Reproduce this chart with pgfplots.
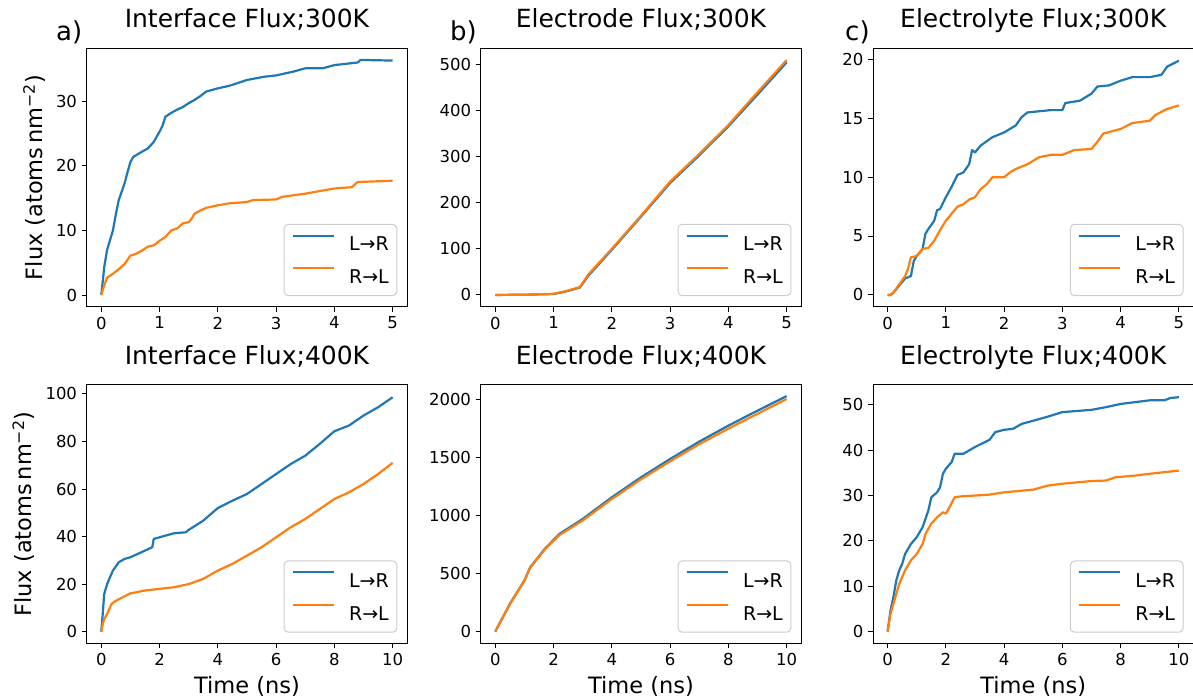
\documentclass[border=0pt]{standalone}
\usepackage{fontspec}
\setmainfont{DejaVu Sans}
\usepackage{pgfplots}
\pgfplotsset{compat=1.18}

\definecolor{tabblue}{HTML}{1F77B4}
\definecolor{taborange}{HTML}{FF7F0E}

\newcommand{\tickfont}{\fontsize{16.5}{19}\selectfont}
\newcommand{\legfont}{\fontsize{19}{22}\selectfont}
\newcommand{\labfont}{\fontsize{22.5}{26}\selectfont}
\newcommand{\titfont}{\fontsize{25}{29}\selectfont}
\newcommand{\panfont}{\fontsize{26}{30}\selectfont}

\pgfplotsset{
  panel/.style={
    scale only axis,
    width=320.5pt, height=258.4pt,
    axis line style={line width=1pt},
    tick align=outside,
    xtick pos=bottom, ytick pos=left,
    major tick length=5pt,
    every tick/.style={black, line width=1pt},
    scaled ticks=false,
    /pgf/number format/assume math mode=true,
    /pgf/number format/set thousands separator={},
    xticklabel style={font=\tickfont, inner sep=0pt, yshift=-5pt},
    yticklabel style={font=\tickfont, inner sep=0pt, xshift=-4.5pt},
    title style={font=\titfont, at={(0.5,1)}, anchor=base, yshift=14.3pt},
    label style={font=\labfont},
    legend cell align=left,
    legend image code/.code={\draw[##1, line width=1.9pt] (0pt,9pt) -- (41pt,9pt);},
    legend style={at={(0.969,0.041)}, anchor=south east,
      draw=black!20, line width=1pt, rounded corners=4pt,
      fill=white, fill opacity=0.8, draw opacity=1, text opacity=1,
      font=\legfont, inner xsep=8pt, inner ysep=10.5pt,
      row sep=15pt, column sep=14pt, nodes={inner sep=0pt}},
  },
  lr/.style={tabblue, line width=2.2pt, line join=round},
  rl/.style={taborange, line width=2.2pt, line join=round},
}

\begin{document}
\begin{tikzpicture}
\useasboundingbox (0,0) rectangle (1193pt,697pt);

% ---------- top row: 300K ----------
\begin{axis}[panel, at={(86.7pt,390.3pt)}, anchor=south west,
  title={Interface Flux;300K},
  xmin=-0.25, xmax=5.25, ymin=-1.8, ymax=38.2,
  xtick={0,1,2,3,4,5}, ytick={0,10,20,30},
  ylabel={Flux (atoms\,nm\textsuperscript{−2})},
  ylabel style={at={(axis description cs:-0.1385,0.5)}, anchor=base},
]
\addplot[lr] coordinates {
(0,0)(0.03,2.5)(0.05,4.3)(0.1,7)(0.15,8.5)(0.2,10)(0.25,12.5)(0.3,14.7)(0.35,16)(0.4,17.3)
(0.45,19)(0.5,20.6)(0.55,21.4)(0.7,22.2)(0.8,22.7)(0.9,23.7)(1.0,25.3)(1.05,26.2)(1.1,27.6)
(1.2,28.2)(1.3,28.7)(1.4,29.1)(1.5,29.7)(1.6,30.2)(1.7,30.8)(1.8,31.5)(2.0,32.0)(2.2,32.4)
(2.5,33.3)(2.8,33.8)(3.0,34.0)(3.3,34.6)(3.5,35.1)(3.8,35.1)(4.0,35.6)(4.3,35.9)(4.4,36.0)
(4.45,36.4)(5.0,36.3)
};
\addlegendentry{L→R}
\addplot[rl] coordinates {
(0,0)(0.05,1.5)(0.1,2.7)(0.2,3.3)(0.3,4.0)(0.4,4.8)(0.5,6.1)(0.6,6.4)(0.7,6.9)(0.8,7.5)
(0.9,7.7)(1.0,8.4)(1.1,9.0)(1.2,10.0)(1.3,10.3)(1.4,11.1)(1.5,11.3)(1.55,11.8)(1.6,12.6)
(1.7,13.1)(1.8,13.5)(2.0,13.9)(2.2,14.2)(2.5,14.4)(2.6,14.7)(3.0,14.8)(3.1,15.2)(3.5,15.7)
(4.0,16.5)(4.3,16.7)(4.4,17.5)(5.0,17.7)
};
\addlegendentry{R→L}
\end{axis}

\begin{axis}[panel, at={(480.7pt,390.3pt)}, anchor=south west,
  title={Electrode Flux;300K},
  xmin=-0.25, xmax=5.25, ymin=-25.5, ymax=535.5,
  xtick={0,1,2,3,4,5}, ytick={0,100,200,300,400,500},
]
\addplot[lr] coordinates {
(0,0)(0.5,0.5)(1,2)(1.2,7)(1.45,16)(1.6,42)(2,98)(2.5,170)(3,243)(3.5,303)(4,366)(4.5,435)(5,505)
};
\addlegendentry{L→R}
\addplot[rl] coordinates {
(0,0)(0.5,0.5)(1,2.5)(1.2,8)(1.45,17)(1.6,45)(2,100)(2.5,172)(3,246)(3.5,306)(4,369)(4.5,440)(5,510)
};
\addlegendentry{R→L}
\end{axis}

\begin{axis}[panel, at={(873pt,390.3pt)}, anchor=south west,
  title={Electrolyte Flux;300K},
  xmin=-0.25, xmax=5.25, ymin=-1, ymax=20.95,
  xtick={0,1,2,3,4,5}, ytick={0,5,10,15,20},
]
\addplot[lr] coordinates {
(0,0)(0.05,0)(0.1,0.2)(0.2,0.8)(0.3,1.4)(0.4,1.6)(0.45,2.9)(0.5,3.3)(0.6,3.9)(0.65,5.2)
(0.7,5.6)(0.8,6.3)(0.85,7.2)(0.9,7.3)(1.0,8.3)(1.1,9.2)(1.2,10.2)(1.3,10.4)(1.4,11.1)
(1.45,12.3)(1.5,12.1)(1.6,12.7)(1.8,13.4)(2.0,13.8)(2.2,14.4)(2.3,15.1)(2.4,15.5)(2.8,15.7)
(3.0,15.7)(3.05,16.3)(3.3,16.5)(3.5,17.1)(3.6,17.7)(3.8,17.8)(4.0,18.2)(4.2,18.5)(4.5,18.5)
(4.7,18.7)(4.8,19.4)(5.0,19.9)
};
\addlegendentry{L→R}
\addplot[rl] coordinates {
(0,0)(0.05,0)(0.1,0.2)(0.2,0.9)(0.3,1.6)(0.35,2.2)(0.4,3.2)(0.5,3.3)(0.6,3.9)(0.7,4.0)
(0.8,4.6)(0.9,5.5)(1.0,6.3)(1.1,6.9)(1.2,7.5)(1.3,7.7)(1.4,8.1)(1.5,8.3)(1.6,9.0)(1.7,9.4)
(1.8,10.0)(2.0,10.0)(2.1,10.4)(2.2,10.7)(2.4,11.1)(2.6,11.7)(2.8,11.9)(3.0,11.9)(3.2,12.3)
(3.5,12.4)(3.6,13.0)(3.7,13.7)(4.0,14.1)(4.2,14.6)(4.5,14.8)(4.6,15.3)(4.8,15.8)(5.0,16.1)
};
\addlegendentry{R→L}
\end{axis}

% ---------- bottom row: 400K ----------
\begin{axis}[panel, at={(86.7pt,53.7pt)}, anchor=south west,
  title={Interface Flux;400K},
  xmin=-0.5, xmax=10.5, ymin=-4.9, ymax=103.8,
  xtick={0,2,4,6,8,10}, ytick={0,20,40,60,80,100},
  ylabel={Flux (atoms\,nm\textsuperscript{−2})},
  ylabel style={at={(axis description cs:-0.172,0.5)}, anchor=base},
  xlabel={Time (ns)},
  xlabel style={at={(axis description cs:0.5,-0.1924)}, anchor=base},
]
\addplot[lr] coordinates {
(0,0)(0.05,7.4)(0.1,15.8)(0.2,20)(0.3,22.9)(0.4,25.7)(0.6,29.2)(0.8,30.6)(1.0,31.3)
(1.5,34.1)(1.75,35.5)(1.8,39)(2.0,39.7)(2.5,41.4)(2.9,41.8)(3.0,42.8)(3.5,46.7)(4.0,52)
(4.5,55.1)(5.0,57.9)(5.5,62.1)(6.0,66.3)(6.5,70.5)(7.0,74)(7.5,79)(8.0,84.3)(8.5,86.7)
(9.0,90.9)(9.5,94.4)(10.0,98.6)
};
\addlegendentry{L→R}
\addplot[rl] coordinates {
(0,0)(0.05,3.2)(0.1,5.3)(0.2,7.4)(0.35,11.6)(0.5,13)(1.0,16.1)(1.5,17.3)(2.0,18)(2.5,18.7)
(3.0,20)(3.5,22.2)(4.0,25.7)(4.5,28.5)(5.0,32)(5.5,35.5)(6.0,39.7)(6.5,43.9)(7.0,47.4)
(7.5,51.6)(8.0,55.8)(8.5,58.6)(9.0,62.1)(9.5,66.3)(10.0,71)
};
\addlegendentry{R→L}
\end{axis}

\begin{axis}[panel, at={(480.7pt,53.7pt)}, anchor=south west,
  title={Electrode Flux;400K},
  xmin=-0.5, xmax=10.5, ymin=-101, ymax=2127,
  xtick={0,2,4,6,8,10}, ytick={0,500,1000,1500,2000},
  xlabel={Time (ns)},
  xlabel style={at={(axis description cs:0.5,-0.1924)}, anchor=base},
]
\addplot[lr] coordinates {
(0,0)(0.5,238)(1,440)(1.2,555)(1.7,713)(2,790)(2.2,842)(3,971)(4,1158)(5,1330)
(6,1488)(7,1638)(8,1776)(9,1905)(10,2030)
};
\addlegendentry{L→R}
\addplot[rl] coordinates {
(0,0)(0.5,236)(1,438)(1.2,552)(1.7,708)(2,782)(2.2,832)(3,958)(4,1143)(5,1313)
(6,1468)(7,1616)(8,1750)(9,1878)(10,2005)
};
\addlegendentry{R→L}
\end{axis}

\begin{axis}[panel, at={(873pt,53.7pt)}, anchor=south west,
  title={Electrolyte Flux;400K},
  xmin=-0.5, xmax=10.5, ymin=-2.6, ymax=54.4,
  xtick={0,2,4,6,8,10}, ytick={0,10,20,30,40,50},
  xlabel={Time (ns)},
  xlabel style={at={(axis description cs:0.5,-0.1924)}, anchor=base},
]
\addplot[lr] coordinates {
(0,0)(0.1,4.6)(0.2,7.6)(0.3,11.3)(0.4,13.5)(0.5,14.9)(0.6,17.1)(0.8,19.3)(1.0,20.8)
(1.2,23)(1.4,26.7)(1.5,29.6)(1.7,30.7)(1.8,31.8)(1.9,34.8)(2.0,35.9)(2.2,37.4)(2.3,39.2)
(2.6,39.2)(3.0,40.7)(3.5,42.3)(3.7,44)(4.0,44.5)(4.3,44.7)(4.6,45.8)(5.0,46.5)(5.5,47.4)
(6.0,48.4)(7.0,48.9)(7.5,49.5)(8.0,50.2)(9.0,51)(9.5,51)(9.7,51.5)(10,51.7)
};
\addlegendentry{L→R}
\addplot[rl] coordinates {
(0,0)(0.1,3.9)(0.2,6.1)(0.3,8.3)(0.4,10.5)(0.6,13.5)(0.8,15.7)(1.0,17.1)(1.2,19.3)
(1.3,21.5)(1.5,23.8)(1.7,25.2)(1.9,26.3)(2.0,26)(2.1,27.1)(2.3,29.6)(2.5,29.8)(3.0,30)
(3.5,30.2)(4.0,30.7)(5.0,31.3)(5.5,32.2)(6.0,32.6)(7.0,33.2)(7.5,33.3)(7.8,34)(8.5,34.4)
(9.0,34.8)(10,35.5)
};
\addlegendentry{R→L}
\end{axis}

% panel letters
\node[anchor=base west, font=\panfont, inner sep=0pt] at (56pt,656.3pt) {a)};
\node[anchor=base west, font=\panfont, inner sep=0pt] at (450pt,656.3pt) {b)};
\node[anchor=base west, font=\panfont, inner sep=0pt] at (845pt,656.3pt) {c)};
\end{tikzpicture}
\end{document}
